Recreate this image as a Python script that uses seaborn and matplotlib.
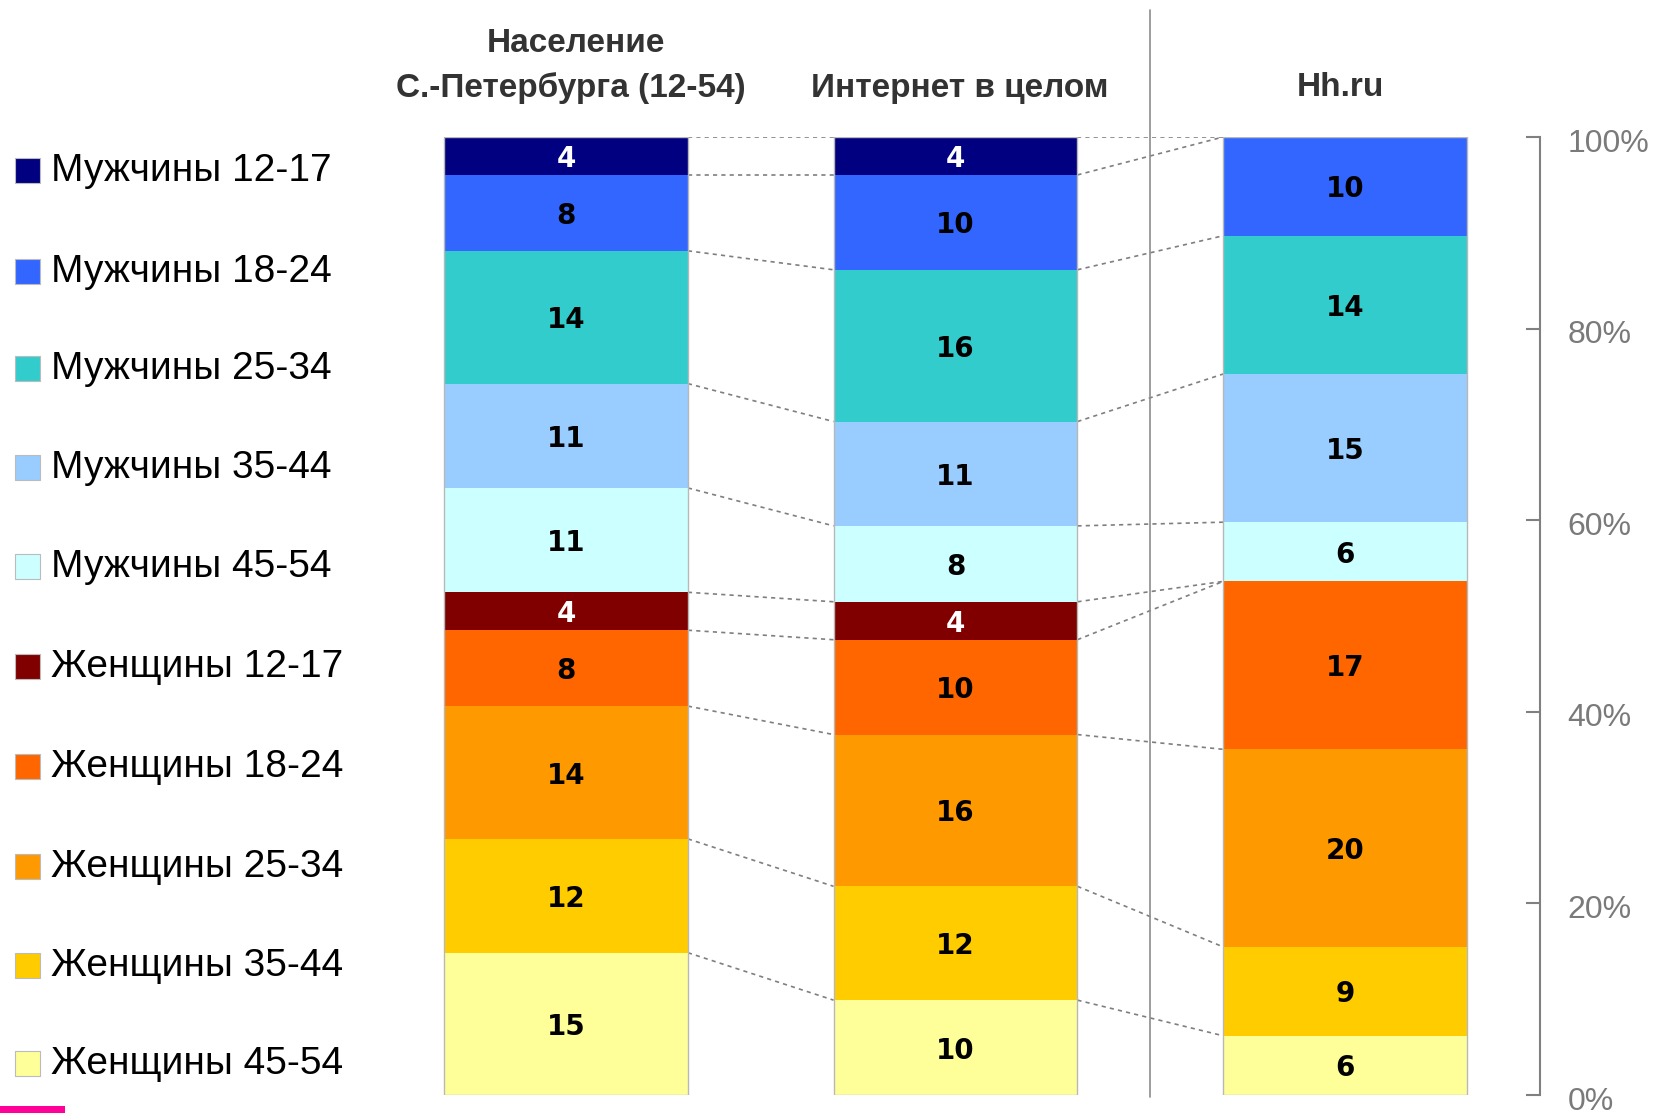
import numpy as np
import pandas as pd
import matplotlib
matplotlib.use("Agg")
import matplotlib.pyplot as plt
from matplotlib.patches import Rectangle
from matplotlib.transforms import ScaledTranslation
import seaborn as sns

# data: segments listed from the top of each bar to the bottom
groups = ["Мужчины 12-17", "Мужчины 18-24", "Мужчины 25-34", "Мужчины 35-44", "Мужчины 45-54",
          "Женщины 12-17", "Женщины 18-24", "Женщины 25-34", "Женщины 35-44", "Женщины 45-54"]
colors = ["#000080", "#3366FF", "#33CCCC", "#99CCFF", "#CCFFFF",
          "#800000", "#FF6600", "#FF9900", "#FFCC00", "#FFFF99"]
columns = ["spb", "internet", "hh"]
headers = ["Население\nС.-Петербурга (12-54)", "Интернет в целом", "Hh.ru"]
spb = [4, 8, 14, 11, 11, 4, 8, 14, 12, 15]
internet = [4, 10, 16, 11, 8, 4, 10, 16, 12, 10]
hh = [0, 10, 14, 15, 6, 0, 17, 20, 9, 6]
tick_vals = [0, 20, 40, 60, 80, 100]

df = pd.DataFrame({"spb": spb, "internet": internet, "hh": hh}, index=groups)
share = df / df.sum() * 100
# height of the stack from the bottom up to the top of each segment
stack_top = share[::-1].cumsum()[::-1]

sns.set_theme(style="white")
plt.rcParams["font.family"] = ["Liberation Sans", "DejaVu Sans"]

W, H = 1657, 1113
fig = plt.figure(figsize=(W / 100, H / 100), dpi=100)
ax = fig.add_axes([371.25 / W, 18 / H, 1168.5 / W, 958 / H])

bw = 0.626
for g, c in zip(groups, colors):
    d = pd.DataFrame({"col": columns, "h": stack_top.loc[g, columns].values})
    sns.barplot(data=d, x="col", y="h", order=columns, color=c, saturation=1,
                width=bw, linewidth=0, ax=ax)
# thin outline round each bar
outline = pd.DataFrame({"col": columns, "h": [100] * 3})
sns.barplot(data=outline, x="col", y="h", order=columns, fill=False, width=bw,
            edgecolor="#b8b8b8", linewidth=1, ax=ax)

# value labels
for j, col in enumerate(columns):
    for i, g in enumerate(groups):
        v = df.loc[g, col]
        if v == 0:
            continue
        y = stack_top.loc[g, col] - share.loc[g, col] / 2
        tc = "white" if colors[i] in ("#000080", "#800000") else "black"
        ax.text(j, y, str(v), ha="center", va="center_baseline", fontsize=20,
                fontweight="bold", color=tc, family="DejaVu Sans")

# dotted connectors between neighbouring bars
bounds = pd.concat([stack_top, pd.DataFrame([[0, 0, 0]], columns=share.columns)], ignore_index=True)
for j in range(2):
    for k in range(len(bounds) - 1):
        ax.plot([j + bw / 2, j + 1 - bw / 2], [bounds.iloc[k, j], bounds.iloc[k, j + 1]],
                ls=(0, (2.5, 2.5)), lw=1.2, color="#7f7f7f", zorder=0.5)

# separator before Hh.ru
ax.plot([1.5, 1.5], [-0.2, 113.3], color="#8c8c8c", lw=1.2, clip_on=False)

ax.set_xlim(-0.5, 2.5)
ax.set_ylim(0, 100)
ax.set_xlabel("")
ax.set_ylabel("")
ax.set_xticks([])
for s in ["left", "top", "bottom"]:
    ax.spines[s].set_visible(False)
ax.spines["right"].set_color("#808080")
ax.spines["right"].set_linewidth(1.5)
ax.yaxis.tick_right()
ax.set_yticks(tick_vals)
ax.set_yticklabels([f"{t}%" for t in tick_vals])
ax.tick_params(axis="y", direction="in", length=10, width=1.5, color="#808080",
               labelcolor="#7a7a7a", labelsize=23, pad=20, right=True, left=False)
shift = ScaledTranslation(0, -0.03, fig.dpi_scale_trans)
for lab in ax.get_yticklabels():
    lab.set_transform(lab.get_transform() + shift)

# column headers
hdr = dict(ha="center", va="center", fontsize=24, fontweight="bold", color="#333333")
fig.text(545 * 1.0568 / W, 1 - 44 / H, "Население", **hdr)
fig.text(540 * 1.0568 / W, 1 - 88 / H, "С.-Петербурга (12-54)", **hdr)
fig.text(908 * 1.0568 / W, 1 - 88 / H, headers[1], **hdr)
fig.text(1268 * 1.0568 / W, 1 - 88 / H, headers[2], **hdr)

# legend on the left
leg_y = [171, 272, 369, 468, 567, 667, 767, 867, 966, 1064]
for g, c, y in zip(groups, colors, leg_y):
    fig.patches.append(Rectangle((15 / W, 1 - (y + 12) / H), 25 / W, 25 / H,
                                 transform=fig.transFigure, facecolor=c,
                                 edgecolor="#bbbbbb", lw=0.8))
    fig.text(51 / W, 1 - y / H, g, ha="left", va="center", fontsize=28, color="black")

# corner logo fragment
fig.patches.append(Rectangle((0, 0), 65 / W, 7 / H, transform=fig.transFigure,
                             facecolor="#FF0099", edgecolor="none"))

fig.savefig("out.png", dpi=100, facecolor="white")
